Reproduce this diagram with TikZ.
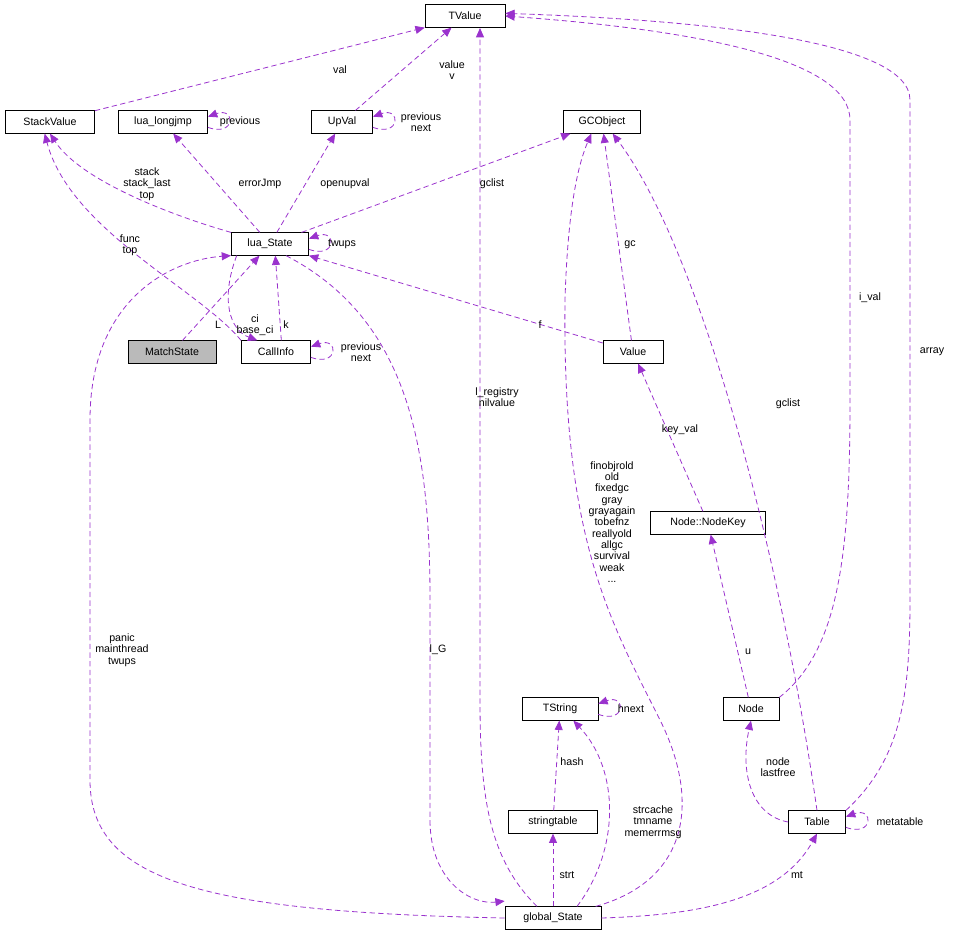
\documentclass[tikz,border=0pt]{standalone}
\usepackage{fontspec}
\setmainfont{Liberation Sans}
\usetikzlibrary{arrows.meta}
\definecolor{edgepurple}{HTML}{9A32CD}
\tikzset{
  cls/.style={draw, fill=white, minimum height=17pt, inner sep=1pt, font=\fontsize{8}{9}\selectfont},
  edge/.style={draw=edgepurple, dash pattern=on 4pt off 2.5pt, line width=0.6pt, -{Triangle[length=7pt,width=6pt,fill=edgepurple]}},
  lbl/.style={align=center, font=\fontsize{8}{8.5}\selectfont, inner sep=0pt}
}
\begin{document}
\begin{tikzpicture}[x=0.75pt,y=-0.75pt]
  \useasboundingbox (0,0) rectangle (954,940);
  % classes
  \node[cls, minimum width=60pt] (TValue) at (465,16) {TValue};
  \node[cls, minimum width=67pt] (StackValue) at (50,122) {StackValue};
  \node[cls, minimum width=67pt] (longjmp) at (163,122) {lua\_longjmp};
  \node[cls, minimum width=46pt] (UpVal) at (342,122) {UpVal};
  \node[cls, minimum width=58pt] (GCObject) at (602,122) {GCObject};
  \node[cls, minimum width=58pt] (luaState) at (270,244) {lua\_State};
  \node[cls, minimum width=66pt, fill=black!27] (MatchState) at (172,352) {MatchState};
  \node[cls, minimum width=52pt] (CallInfo) at (276,352) {CallInfo};
  \node[cls, minimum width=45pt] (Value) at (633,352) {Value};
  \node[cls, minimum width=86pt] (NodeKey) at (708,523) {Node::NodeKey};
  \node[cls, minimum width=57pt] (TString) at (560,709) {TString};
  \node[cls, minimum width=42pt] (Node) at (751,709) {Node};
  \node[cls, minimum width=67pt] (stringtable) at (553,822) {stringtable};
  \node[cls, minimum width=43pt] (Table) at (817,822) {Table};
  \node[cls, minimum width=72pt] (globalState) at (553,918) {global\_State};

  % connectors
  \draw[edge] (StackValue) -- (TValue.south west);
  \draw[edge] (UpVal) -- (TValue);
  \draw[edge] ([yshift=-4pt]UpVal.east) .. controls +(28,10) and +(28,-10) .. ([yshift=4pt]UpVal.east);
  \draw[edge] ([yshift=-4pt]longjmp.east) .. controls +(28,10) and +(28,-10) .. ([yshift=4pt]longjmp.east);
  \draw[edge] (luaState.north west) .. controls (170,215) and (80,180) .. (StackValue.south);
  \draw[edge] (luaState) -- (longjmp);
  \draw[edge] (luaState) -- (UpVal);
  \draw[edge] (luaState) -- (GCObject);
  \draw[edge] ([yshift=-4pt]luaState.east) .. controls +(28,10) and +(28,-10) .. ([yshift=4pt]luaState.east);
  \draw[edge] (CallInfo.north west) .. controls (200,290) and (70,230) .. ([xshift=-4pt]StackValue.south);
  \draw[edge] (MatchState) -- (luaState);
  \draw[edge] ([xshift=-25pt]luaState.south) .. controls (220,300) and (230,330) .. ([xshift=-14pt]CallInfo.north);
  \draw[edge] ([xshift=4pt]CallInfo.north) -- ([xshift=4pt]luaState.south);
  \draw[edge] ([yshift=-4pt]CallInfo.east) .. controls +(28,10) and +(28,-10) .. ([yshift=4pt]CallInfo.east);
  \draw[edge] (Value) -- (luaState.south east);
  \draw[edge] (Value) -- (GCObject);
  \draw[edge] ([xshift=-12pt]globalState.north) .. controls (490,860) and (480,800) .. (480,700) -- (480,28);
  \draw[edge] (globalState.west) .. controls (200,912) and (90,880) .. (90,780) -- (90,420) .. controls (90,300) and (170,260) .. (luaState.south west);
  \draw[edge] ([xshift=12pt]luaState.south) .. controls (410,320) and (430,450) .. (430,600) -- (430,820) .. controls (430,880) and (470,905) .. ([yshift=4pt]globalState.north west);
  \draw[edge] ([xshift=32pt]globalState.north) .. controls (690,880) and (700,800) .. (660,720) .. controls (610,620) and (562,540) .. (565,300) .. controls (568,200) and (580,160) .. ([xshift=-8pt]GCObject.south);
  \draw[edge] (NodeKey) -- (Value);
  \draw[edge] (Node.north east) .. controls (840,650) and (850,550) .. (850,400) -- (850,120) .. controls (850,60) and (700,30) .. (TValue.east);
  \draw[edge] (Table.north) .. controls (780,550) and (700,250) .. ([xshift=8pt]GCObject.south);
  \draw[edge] (Table.north east) .. controls (900,760) and (910,700) .. (910,600) -- (910,100) .. controls (910,40) and (700,20) .. ([yshift=2pt]TValue.east);
  \draw[edge] (Node) -- (NodeKey);
  \draw[edge] (Table.west) .. controls (750,815) and (740,770) .. (Node.south);
  \draw[edge] ([yshift=-4pt]Table.east) .. controls +(28,10) and +(28,-10) .. ([yshift=4pt]Table.east);
  \draw[edge] ([yshift=-4pt]TString.east) .. controls +(28,10) and +(28,-10) .. ([yshift=4pt]TString.east);
  \draw[edge] (stringtable) -- (TString);
  \draw[edge] ([xshift=18pt]globalState.north) .. controls (620,850) and (620,770) .. ([xshift=10pt]TString.south);
  \draw[edge] (globalState.north) -- (stringtable.south);
  \draw[edge] (globalState.east) .. controls (700,915) and (780,900) .. (Table.south);

  % labels
  \node[lbl] (lval) at (340,70) {val};
  \node[lbl] (lvalue) at (452,70) {value\\v};
  \node[lbl] (lprev1) at (421,122) {previous\\next};
  \node[lbl] (lprev2) at (240,122) {previous};
  \node[lbl] (lstack) at (147,184) {stack\\stack\_last\\top};
  \node[lbl] (lerr) at (260,184) {errorJmp};
  \node[lbl] (lopen) at (345,184) {openupval};
  \node[lbl] (lgcl1) at (492,184) {gclist};
  \node[lbl] (ltwups) at (342,244) {twups};
  \node[lbl] (lfunc) at (130,245) {func\\top};
  \node[lbl] (lL) at (218,325) {L};
  \node[lbl] (lci) at (255,325) {ci\\base\_ci};
  \node[lbl] (lk) at (286,325) {k};
  \node[lbl] (lprev3) at (361,352) {previous\\next};
  \node[lbl] (lf) at (540,325) {f};
  \node[lbl] (lgc) at (630,245) {gc};
  \node[lbl] (lreg) at (497,397) {l\_registry\\nilvalue};
  \node[lbl] (lpanic) at (122,650) {panic\\mainthread\\twups};
  \node[lbl] (lG) at (438,650) {l\_G};
  \node[lbl] (lfin) at (612,522) {finobjrold\\old\\fixedgc\\gray\\grayagain\\tobefnz\\reallyold\\allgc\\survival\\weak\\...};
  \node[lbl] (lkey) at (680,430) {key\_val};
  \node[lbl] (lival) at (870,298) {i\_val};
  \node[lbl] (lgcl2) at (788,404) {gclist};
  \node[lbl] (larray) at (932,352) {array};
  \node[lbl] (lu) at (748,652) {u};
  \node[lbl] (lnode) at (778,767) {node\\lastfree};
  \node[lbl] (lmeta) at (900,822) {metatable};
  \node[lbl] (lhnext) at (631,709) {hnext};
  \node[lbl] (lhash) at (572,762) {hash};
  \node[lbl] (lstrc) at (653,822) {strcache\\tmname\\memerrmsg};
  \node[lbl] (lstrt) at (567,875) {strt};
  \node[lbl] (lmt) at (797,875) {mt};
\end{tikzpicture}
\end{document}
